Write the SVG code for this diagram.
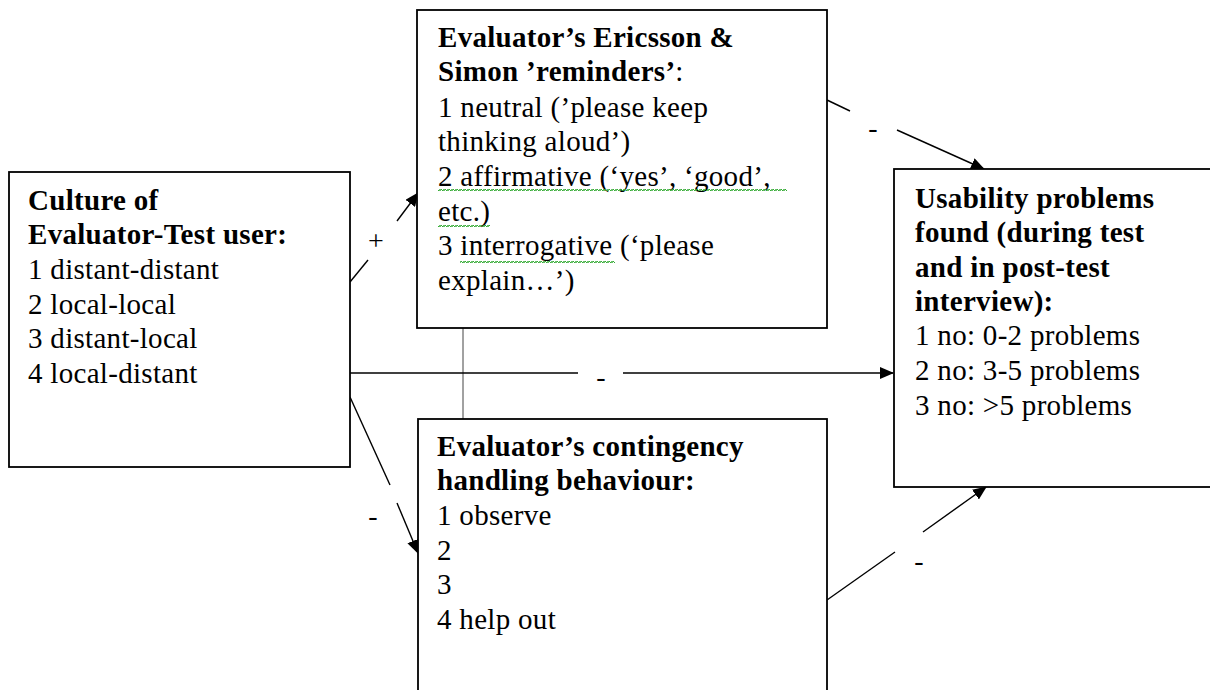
<svg xmlns="http://www.w3.org/2000/svg" width="1210" height="690" viewBox="0 0 1210 690">
<style>
.box{fill:#fff;stroke:#000;stroke-width:1.8}
text{font-family:"Liberation Serif","Times New Roman",serif;font-size:29px;letter-spacing:0.3px;fill:#000}
.b{font-weight:bold}
.c{stroke:#000;stroke-width:1.4;fill:none}
.thin{stroke:#444;stroke-width:1;fill:none}
.lbl{font-size:28px}
</style>
<defs>
<marker id="ah" markerUnits="userSpaceOnUse" markerWidth="14" markerHeight="12" viewBox="0 0 14 12" refX="13" refY="6" orient="auto">
<path d="M0,0 L14,6 L0,12 Z" fill="#000"/>
</marker>
<pattern id="sq" patternUnits="userSpaceOnUse" width="4" height="4">
<path d="M0,3 L1,1 L3,3 L4,1" stroke="#3a3" stroke-width="1" fill="none"/>
</pattern>
</defs>
<g id="connectors">
<line class="thin" x1="463" y1="328" x2="463" y2="419"/>
<line class="c" x1="350" y1="282" x2="368" y2="260"/>
<line class="c" x1="397" y1="221" x2="418" y2="193" marker-end="url(#ah)"/>
<line class="c" x1="350" y1="373" x2="578" y2="373"/>
<line class="c" x1="623" y1="373" x2="893" y2="373" marker-end="url(#ah)"/>
<line class="c" x1="350" y1="397" x2="390" y2="485"/>
<line class="c" x1="397" y1="503" x2="418" y2="553" marker-end="url(#ah)"/>
<line class="c" x1="827" y1="600" x2="895" y2="552"/>
<line class="c" x1="923" y1="532" x2="986" y2="487" marker-end="url(#ah)"/>
<line class="c" x1="827" y1="100" x2="850" y2="111"/>
<line class="c" x1="897" y1="130" x2="984" y2="169" marker-end="url(#ah)"/>
<text class="lbl" x="376" y="250" text-anchor="middle">+</text>
<text class="lbl" x="601" y="386" text-anchor="middle">-</text>
<text class="lbl" x="373" y="525" text-anchor="middle">-</text>
<text class="lbl" x="919" y="570" text-anchor="middle">-</text>
<text class="lbl" x="873" y="137" text-anchor="middle">-</text>
</g>
<g id="culture">
<rect class="box" x="9" y="172" width="341" height="295"/>
<text class="b" x="28" y="210">Culture of</text>
<text class="b" x="28" y="244">Evaluator-Test user:</text>
<text x="28" y="279">1 distant-distant</text>
<text x="28" y="314">2 local-local</text>
<text x="28" y="348">3 distant-local</text>
<text x="28" y="383">4 local-distant</text>
</g>
<g id="reminders">
<rect class="box" x="417" y="10" width="410" height="318"/>
<text class="b" x="438" y="47">Evaluator’s Ericsson &amp;</text>
<text x="438" y="81"><tspan class="b">Simon ’reminders’</tspan>:</text>
<text x="438" y="117">1 neutral (’please keep</text>
<text x="438" y="151">thinking aloud’)</text>
<text x="438" y="186">2 affirmative (‘yes’, ‘good’,</text>
<text x="438" y="221">etc.)</text>
<text x="438" y="255">3 interrogative (‘please</text>
<text x="438" y="290">explain…’)</text>
<rect x="438" y="188" width="349" height="4" fill="url(#sq)"/>
<rect x="438" y="225" width="52" height="4" fill="url(#sq)"/>
<rect x="460" y="260" width="155" height="4" fill="url(#sq)"/>
</g>
<g id="usability">
<rect class="box" x="894" y="169" width="330" height="318"/>
<text class="b" x="915" y="208">Usability problems</text>
<text class="b" x="915" y="242">found (during test</text>
<text class="b" x="915" y="277">and in post-test</text>
<text class="b" x="915" y="311">interview):</text>
<text x="915" y="345">1 no: 0-2 problems</text>
<text x="915" y="380">2 no: 3-5 problems</text>
<text x="915" y="415">3 no: &gt;5 problems</text>
</g>
<g id="contingency">
<rect class="box" x="418" y="419" width="409" height="290"/>
<text class="b" x="437" y="456">Evaluator’s contingency</text>
<text class="b" x="437" y="490">handling behaviour:</text>
<text x="437" y="525">1 observe</text>
<text x="437" y="560">2</text>
<text x="437" y="594">3</text>
<text x="437" y="629">4 help out</text>
</g>
</svg>
